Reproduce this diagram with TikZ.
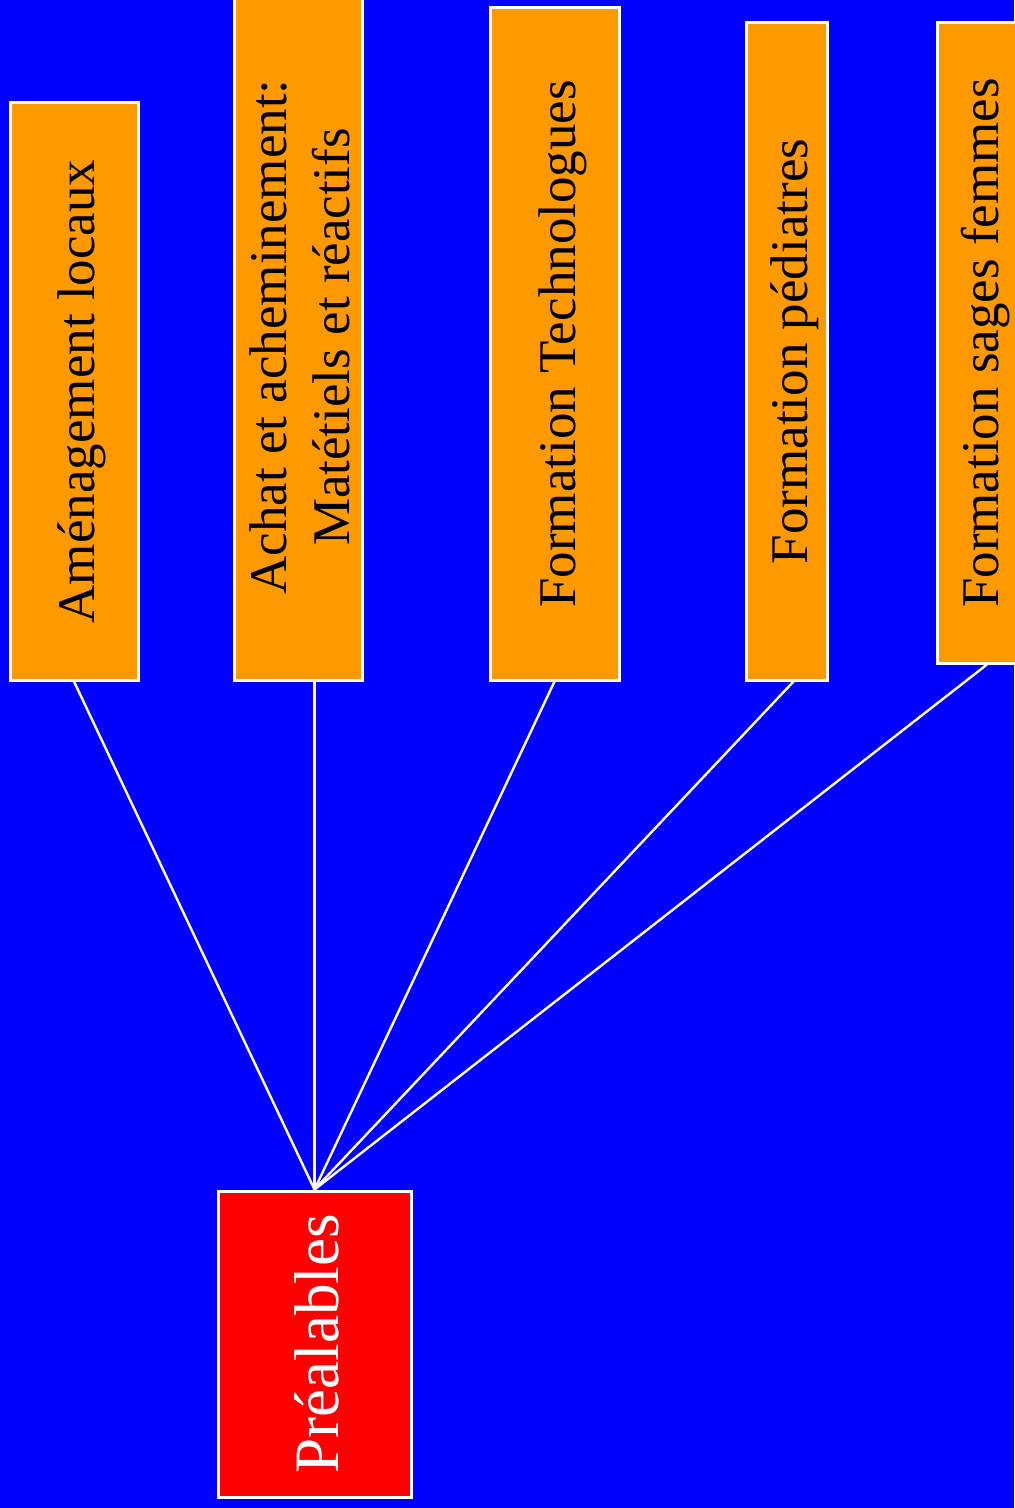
\documentclass[tikz,border=0pt]{standalone}
\usepackage{fontspec}
\setmainfont{Liberation Serif}
\definecolor{fondbleu}{HTML}{0000FF}
\definecolor{orangebox}{HTML}{FF9900}
\definecolor{rougebox}{HTML}{FF0000}
% texte vertical, ligne de base decalee a droite du centre
\newcommand{\vtexte}[2][24.5pt]{\rotatebox{90}{\raisebox{0pt}[#1][4pt]{#2}}}
\begin{document}
\begin{tikzpicture}[x=0.5pt, y=-0.5pt,
		tache/.style={draw=white, line width=1.5pt, fill=orangebox, inner sep=0pt,
			text=black, font=\fontsize{26.5}{31.5}\selectfont},
		racine/.style={draw=white, line width=1.5pt, fill=rougebox, inner sep=0pt,
			text=white, font=\fontsize{31.6}{38}\selectfont},
		lien/.style={draw=white, line width=1.2pt}]
		%%%%% START %%%%%
		
		\fill[fondbleu] (0, 0) rectangle (1014, 1508);
		\useasboundingbox (0, 0) rectangle (1014, 1508);
		
		\node[tache, minimum width=64pt, minimum height=288.5pt] (amenag) at (74, 391.5) {\vtexte{Aménagement locaux}};
		\node[tache, minimum width=64pt, minimum height=343pt] (achat) at (298, 337) {\vtexte[55pt]{\begin{tabular}[b]{@{}c@{}}Achat et acheminement:\\Matétiels et réactifs\end{tabular}}};
		\node[tache, minimum width=64.5pt, minimum height=336pt] (techno) at (554.5, 344) {\vtexte{Formation Technologues}};
		\node[tache, minimum width=40.5pt, minimum height=328.5pt] (pediat) at (786.5, 351.5) {\vtexte{Formation pédiatres}};
		\node[tache, minimum width=40.5pt, minimum height=320pt] (sagesf) at (978, 343) {\vtexte{Formation sages femmes}};
		
		\node[racine, minimum width=96.5pt, minimum height=153pt] (prealab) at (314.5, 1344) {\vtexte[27.5pt]{Préalables}};
		
		\draw[lien] (prealab.north) -- (amenag.south);
		\draw[lien] (prealab.north) -- (prealab.north |- achat.south);
		\draw[lien] (prealab.north) -- (techno.south);
		\draw[lien] (prealab.north) -- ([xshift=3.5pt]pediat.south);
		\draw[lien] (prealab.north) -- ([xshift=4.5pt]sagesf.south);
		
		%%%%% END %%%%%
	\end{tikzpicture}
\end{document}
